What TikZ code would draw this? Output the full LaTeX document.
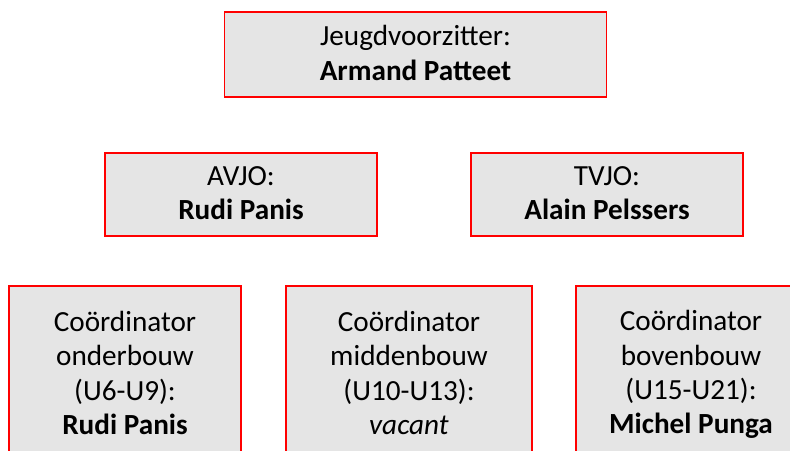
\documentclass[tikz,border=0pt]{standalone}
\usepackage{fontspec}
\setmainfont{Carlito}
\usepackage{xcolor}
\usepackage{tikz}
\usetikzlibrary{positioning}

\newcommand{\diep}{\rule[-3pt]{0pt}{0pt}}

\begin{document}
\begin{tikzpicture}[
    x=1pt, y=-1pt,
    rolebox/.style={
        rectangle, % shape
        draw = red, %border
        line width = 1.5pt,
        fill = gray!20, %the filling
        align = center,
        inner sep = 0pt,
        font = \fontsize{29.2}{34.3}\selectfont %font
      },
    wide/.style={rolebox, minimum width=382pt, minimum height=85pt},
    mid/.style={rolebox, minimum width=272pt, minimum height=83pt},
    low/.style={rolebox, minimum height=177pt}
  ]
  \useasboundingbox (0,0) rectangle (790,450);
  % bovenste rij
  \node (voorzitter) [wide] at (415.5,54.5) {Jeugdvoorzitter:\\\textbf{Armand Patteet}\diep};
  % middelste rij
  \node (avjo) [mid] at (241,194.5) {AVJO:\\\textbf{Rudi Panis}\diep};
  \node (tvjo) [mid] at (607,194.5) {TVJO:\\\textbf{Alain Pelssers}\diep};
  % onderste rij
  \node (onder) [low, minimum width=232pt] at (125,374.5) {Co\"ordinator\\onderbouw\\(U6-U9):\\\textbf{Rudi Panis}\diep};
  \node (midden) [low, minimum width=246pt] at (409,374.5) {Co\"ordinator\\middenbouw\\(U10-U13):\\\textit{vacant}\diep};
  \node (boven) [low, minimum width=230pt] at (691,374.5) {Co\"ordinator\\bovenbouw\\(U15-U21):\\\textbf{Michel Punga}\diep};
\end{tikzpicture}
\end{document}
